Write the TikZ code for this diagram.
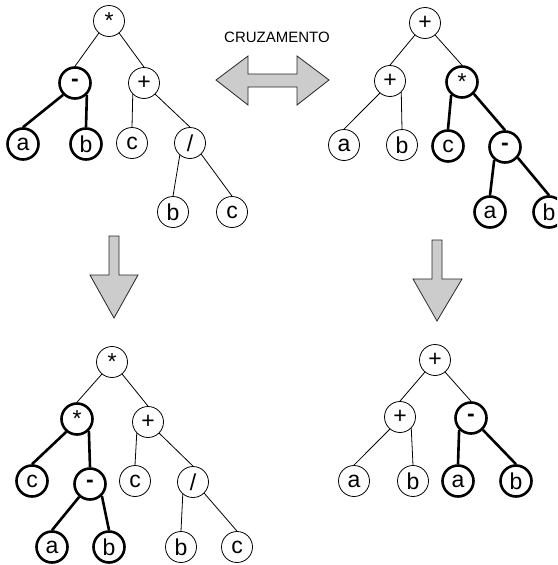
\documentclass[tikz,border=0pt]{standalone}
\usepackage{fontspec}
\setmainfont{Liberation Sans}
\begin{document}
\begin{tikzpicture}[x=1pt,y=-1pt,
  nd/.style={circle,draw,fill=white,minimum size=31pt,inner sep=0pt,line width=0.8pt,font=\fontsize{23}{23}\selectfont},
  nb/.style={nd,line width=2.6pt},
  ln/.style={line width=0.8pt},
  lb/.style={line width=2.6pt},
  bigarrow/.style={draw=black!85,line width=0.8pt,fill=black!20,line join=miter},
  lbl/.style={font=\fontsize{15}{15}\selectfont}]
\useasboundingbox (0,0) rectangle (557,565);
\clip (0,0) rectangle (557,565);

% ---- top-left tree
\node[nd] (a0) at (109,21) {*};
\node[nb] (a1) at (75,83) {\bfseries -};
\node[nd] (a2) at (144,83) {+};
\node[nb] (a3) at (23,144) {a};
\node[nb] (a4) at (86,144) {b};
\node[nd] (a5) at (132,143) {c};
\node[nd] (a6) at (190,143) {/};
\node[nd] (a7) at (173,212) {b};
\node[nd] (a8) at (232,212) {c};
\draw[ln] (a0.-130) -- (a1.north);
\draw[ln] (a0.-50) -- (a2.north);
\draw[lb] (a1.-135) -- (a3.north);
\draw[lb] (a1.-45) -- (a4.north);
\draw[ln] (a2.-135) -- (a5.north);
\draw[ln] (a2.-45) -- (a6.north);
\draw[ln] (a6.-130) -- (a7.north);
\draw[ln] (a6.-45) -- (a8.north);

% ---- top-right tree
\node[nd] (b0) at (425,23) {+};
\node[nd] (b1) at (390,81) {+};
\node[nb] (b2) at (462,82) {*};
\node[nd] (b3) at (344,145) {a};
\node[nd] (b4) at (402,145) {b};
\node[nb] (b5) at (448,146) {c};
\node[nb] (b6) at (505,147) {\bfseries -};
\node[nb] (b7) at (490,212) {a};
\node[nb] (b8) at (549,212) {b};
\draw[ln] (b0.-130) -- (b1.north);
\draw[ln] (b0.-50) -- (b2.north);
\draw[ln] (b1.-130) -- (b3.north);
\draw[ln] (b1.-45) -- (b4.north);
\draw[lb] (b2.-130) -- (b5.north);
\draw[lb] (b2.-45) -- (b6.north);
\draw[lb] (b6.-130) -- (b7.north);
\draw[lb] (b6.-40) -- (b8.north);

% ---- bottom-left tree
\node[nd] (c0) at (112,362) {*};
\node[nb] (c1) at (77,419) {*};
\node[nd] (c2) at (148,422) {+};
\node[nb] (c3) at (32,481) {c};
\node[nb] (c4) at (90,484) {\bfseries -};
\node[nd] (c5) at (135,481) {c};
\node[nd] (c6) at (193,482) {/};
\node[nb] (c7) at (52,547) {a};
\node[nb] (c8) at (109,547) {b};
\node[nd] (c9) at (181,547) {b};
\node[nd] (c10) at (237,547) {c};
\draw[ln] (c0.-130) -- (c1.north);
\draw[ln] (c0.-50) -- (c2.north);
\draw[lb] (c1.-130) -- (c3.north);
\draw[lb] (c1.-45) -- (c4.north);
\draw[ln] (c2.-135) -- (c5.north);
\draw[ln] (c2.-45) -- (c6.north);
\draw[ln] (c6.-130) -- (c9.north);
\draw[ln] (c6.-45) -- (c10.north);
\draw[lb] (c4.-130) -- (c7.north);
\draw[lb] (c4.-45) -- (c8.north);

% ---- bottom-right tree
\node[nd] (d0) at (435,360) {+};
\node[nd] (d1) at (400,417) {+};
\node[nb] (d2) at (471,418) {\bfseries -};
\node[nd] (d3) at (354,481) {a};
\node[nd] (d4) at (413,481) {b};
\node[nb] (d5) at (458,481) {a};
\node[nb] (d6) at (516,481) {b};
\draw[ln] (d0.-130) -- (d1.north);
\draw[ln] (d0.-50) -- (d2.north);
\draw[ln] (d1.-130) -- (d3.north);
\draw[ln] (d1.-45) -- (d4.north);
\draw[lb] (d2.-135) -- (d5.north);
\draw[lb] (d2.-45) -- (d6.north);

% ---- arrows
\node[lbl] (title) at (277,37) {CRUZAMENTO};
\draw[bigarrow] (216,80) -- (248,56) -- (248,74) -- (297,74) -- (297,56) -- (329,80)
  -- (297,105) -- (297,87) -- (248,87) -- (248,105) -- cycle;
\draw[bigarrow] (109,236) -- (119,236) -- (119,275) -- (138,275) -- (114,318)
  -- (90,275) -- (109,275) -- cycle;
\draw[bigarrow] (432,240) -- (442,240) -- (442,279) -- (462,279) -- (437,321)
  -- (413,279) -- (432,279) -- cycle;
\end{tikzpicture}
\end{document}
